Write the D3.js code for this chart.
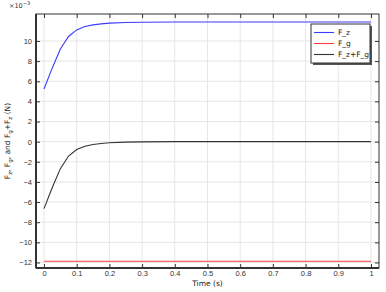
<!DOCTYPE html>
<html>
<head>
<meta charset="utf-8">
<script src="https://cdn.jsdelivr.net/npm/d3@7"></script>
<style>
  body { margin: 0; background: #fff; }
  svg { display: block; font-family: "DejaVu Sans", sans-serif; }
</style>
</head>
<body>
<svg id="chart" width="386" height="292"></svg>
<script>
// Data (values in units of 1e-3 N)
const time = [0, 0.025, 0.05, 0.075, 0.1, 0.125, 0.15, 0.175, 0.2, 0.25, 0.3, 0.4, 0.5, 0.6, 0.7, 0.8, 0.9, 1.0];
const fz = [5.23, 7.3, 9.2, 10.45, 11.1, 11.43, 11.6, 11.7, 11.77, 11.83, 11.86, 11.88, 11.88, 11.88, 11.88, 11.88, 11.88, 11.88];
const fg = [-11.88, -11.88, -11.88, -11.88, -11.88, -11.88, -11.88, -11.88, -11.88, -11.88, -11.88, -11.88, -11.88, -11.88, -11.88, -11.88, -11.88, -11.88];
const fsum = [-6.65, -4.58, -2.68, -1.43, -0.78, -0.45, -0.28, -0.18, -0.11, -0.05, -0.02, 0, 0, 0, 0, 0, 0, 0];
const xTicks = [0, 0.1, 0.2, 0.3, 0.4, 0.5, 0.6, 0.7, 0.8, 0.9, 1];
const yTicks = [-12, -10, -8, -6, -4, -2, 0, 2, 4, 6, 8, 10];
const seriesNames = ["F_z", "F_g", "F_z+F_g"];
const seriesColors = ["#3b3bff", "#ff3b3b", "#333333"];

const margin = {top: 14, right: 7, bottom: 24, left: 36},
    width = 386 - margin.left - margin.right,
    height = 292 - margin.top - margin.bottom;

const svg = d3.select("#chart")
    .append("g")
    .attr("transform", "translate(" + margin.left + "," + margin.top + ")");

const x = d3.scaleLinear().domain([-0.0245, 1.0245]).range([0, width]);
const y = d3.scaleLinear().domain([-12.55, 12.68]).range([height, 0]);

// Grid
svg.append("g").selectAll("line").data(xTicks).join("line")
    .attr("x1", d => x(d)).attr("x2", d => x(d))
    .attr("y1", 0).attr("y2", height)
    .attr("stroke", "#e6e6e6").attr("stroke-width", 1);
svg.append("g").selectAll("line").data(yTicks).join("line")
    .attr("y1", d => y(d)).attr("y2", d => y(d))
    .attr("x1", 0).attr("x2", width)
    .attr("stroke", "#e6e6e6").attr("stroke-width", 1);

// Axes (ticks pointing inward)
const axisStyle = g => {
    g.select(".domain").remove();
    g.selectAll(".tick line").attr("stroke", "#333");
    g.selectAll(".tick text").attr("fill", "#333").attr("font-size", 7.5);
};
svg.append("g").attr("transform", "translate(0," + height + ")")
    .call(d3.axisBottom(x).tickValues(xTicks).tickFormat(d3.format("~g")).tickSizeInner(-4).tickPadding(3))
    .call(axisStyle);
svg.append("g")
    .call(d3.axisTop(x).tickValues(xTicks).tickSizeInner(-4).tickFormat(""))
    .call(axisStyle);
svg.append("g")
    .call(d3.axisLeft(y).tickValues(yTicks).tickSizeInner(-4).tickPadding(4))
    .call(axisStyle);
svg.append("g").attr("transform", "translate(" + width + ",0)")
    .call(d3.axisRight(y).tickValues(yTicks).tickSizeInner(-4).tickFormat(""))
    .call(axisStyle);

// Lines
const allSeries = [fz, fg, fsum];
const line = d3.line().x((d, i) => x(time[i])).y(d => y(d));
allSeries.forEach((s, k) => {
    svg.append("path")
        .datum(s)
        .attr("d", line)
        .attr("fill", "none")
        .attr("stroke", seriesColors[k])
        .attr("stroke-width", 1.1);
});

// Frame
svg.append("rect")
    .attr("width", width).attr("height", height)
    .attr("fill", "none").attr("stroke", "#333").attr("stroke-width", 1);
svg.append("line").attr("x1", 0).attr("x2", 0).attr("y1", 0).attr("y2", height)
    .attr("stroke", "#333").attr("stroke-width", 2);
svg.append("line").attr("x1", 0).attr("x2", width).attr("y1", height).attr("y2", height)
    .attr("stroke", "#333").attr("stroke-width", 2);

// Legend
const legend = svg.append("g").attr("transform", "translate(" + (311 - margin.left) + "," + (24 - margin.top) + ")");
legend.append("rect").attr("x", 2).attr("y", 2).attr("width", 59).attr("height", 39).attr("fill", "#555");
legend.append("rect").attr("width", 59).attr("height", 39).attr("fill", "#fff").attr("stroke", "#333").attr("stroke-width", 1);
seriesNames.forEach((name, k) => {
    const yy = 8.5 + k * 11;
    legend.append("line").attr("x1", 3).attr("x2", 23).attr("y1", yy).attr("y2", yy)
        .attr("stroke", seriesColors[k]).attr("stroke-width", 1.1);
    legend.append("text").attr("x", 27).attr("y", yy + 2.5)
        .attr("font-size", 7.5).attr("fill", "#222").text(name);
});

// Exponent label
const expo = d3.select("#chart").append("text").attr("x", 9).attr("y", 8)
    .attr("font-size", 6.5).attr("fill", "#333");
expo.append("tspan").text("\u00d710");
expo.append("tspan").attr("dy", -3).attr("font-size", 5).text("\u22123");

// Axis titles
d3.select("#chart").append("text")
    .attr("x", margin.left + width / 2).attr("y", 286)
    .attr("text-anchor", "middle").attr("font-size", 7.5).attr("fill", "#222")
    .text("Time (s)");

const yt = d3.select("#chart").append("text")
    .attr("transform", "translate(10," + (margin.top + height / 2) + ") rotate(-90)")
    .attr("text-anchor", "middle").attr("font-size", 7.5).attr("fill", "#222");
yt.append("tspan").text("F");
yt.append("tspan").attr("font-size", 5.5).attr("dy", 2).text("z");
yt.append("tspan").attr("dy", -2).text(", F");
yt.append("tspan").attr("font-size", 5.5).attr("dy", 2).text("g");
yt.append("tspan").attr("dy", -2).text(", and F");
yt.append("tspan").attr("font-size", 5.5).attr("dy", 2).text("g");
yt.append("tspan").attr("dy", -2).text("+F");
yt.append("tspan").attr("font-size", 5.5).attr("dy", 2).text("z");
yt.append("tspan").attr("dy", -2).text(" (N)");
</script>
</body>
</html>
